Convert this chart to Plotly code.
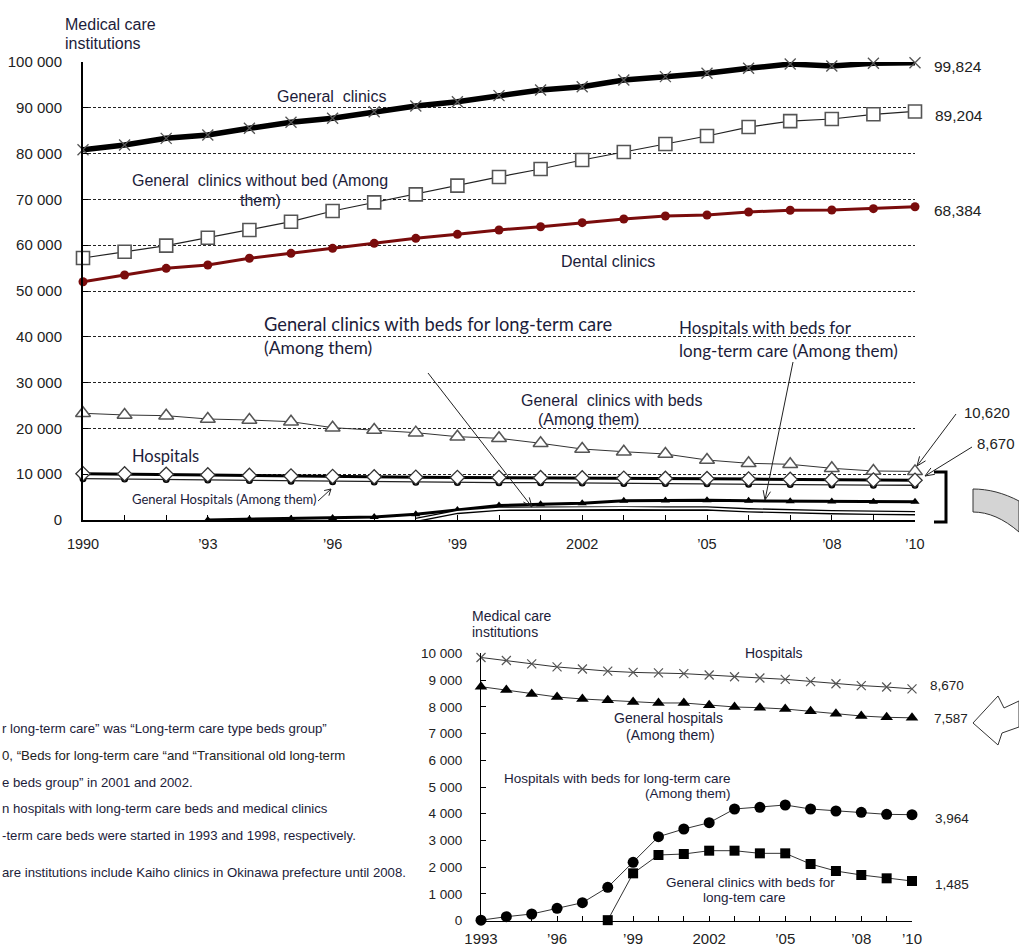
import math
import plotly.graph_objects as go

# ---- data -------------------------------------------------------------
years = list(range(1990, 2011))

general_clinics = [80852, 81880, 83330, 84060, 85520, 86830, 87700, 89150, 90390, 91330,
                   92650, 93890, 94610, 96070, 96800, 97530, 98620, 99560, 99130, 99710, 99824]
clinics_without_bed = [57200, 58580, 59900, 61640, 63320, 65130, 67470, 69360, 71100, 73000,
                       74900, 76640, 78600, 80350, 82100, 83840, 85800, 87100, 87550, 88580, 89204]
dental_clinics = [52030, 53490, 54950, 55680, 57140, 58230, 59320, 60410, 61500, 62370,
                  63320, 64040, 64920, 65720, 66380, 66590, 67250, 67620, 67690, 67980, 68384]
clinics_with_beds = [23300, 22930, 22780, 22050, 21830, 21470, 20160, 19650, 19070, 18190,
                     17840, 16750, 15500, 14910, 14410, 13100, 12380, 12160, 11290, 10700, 10620]
hospitals = [10096, 10066, 9963, 9844, 9731, 9606, 9490, 9413, 9333, 9286,
             9266, 9239, 9187, 9122, 9077, 9026, 8943, 8862, 8794, 8739, 8670]
general_hospitals = [9022, 8930, 8850, 8751, 8627, 8478, 8366, 8291, 8242, 8179,
                     8142, 8142, 8055, 7992, 7966, 7917, 7830, 7741, 7655, 7606, 7587]

ltc_hosp_years = list(range(1993, 2011))
ltc_hospitals = [20, 150, 250, 463, 673, 1249, 2184, 3141, 3429, 3665,
                 4177, 4240, 4327, 4177, 4102, 4053, 3978, 3964]
ltc_clinic_years = list(range(1998, 2011))
ltc_clinics = [20, 1771, 2457, 2494, 2618, 2618, 2519, 2519, 2120, 1858, 1709, 1585, 1485]

top_xtick_vals = [1990, 1993, 1996, 1999, 2002, 2005, 2008, 2010]
top_xtick_text = ["1990", "’93", "’96", "’99", "2002", "’05", "’08", "’10"]
top_ytick_vals = list(range(0, 100001, 10000))
top_ytick_text = ["0", "10 000", "20 000", "30 000", "40 000", "50 000",
                  "60 000", "70 000", "80 000", "90 000", "100 000"]
bot_xtick_vals = [1993, 1996, 1999, 2002, 2005, 2008, 2010]
bot_xtick_text = ["1993", "’96", "’99", "2002", "’05", "’08", "’10"]
bot_ytick_vals = list(range(0, 10001, 1000))
bot_ytick_text = ["0", "1 000", "2 000", "3 000", "4 000", "5 000",
                  "6 000", "7 000", "8 000", "9 000", "10 000"]

# ---- page geometry ------------------------------------------------------
W, H = 1019, 950


def px(x):
    return x / W


def py(y):
    return 1 - y / H


ARIAL = "Liberation Sans, Arial, sans-serif"
CALIBRI = "Lato, Carlito, sans-serif"
TXT = "#1c1c3a"
TICK = "#222222"

fig = go.Figure()

# ---- upper chart traces ---------------------------------------------------
common = dict(mode="lines+markers", cliponaxis=False, showlegend=False,
              xaxis="x", yaxis="y", hoverinfo="x+y")

fig.add_trace(go.Scatter(x=years, y=general_clinics, name="General clinics",
                         line=dict(color="black", width=5.5),
                         marker=dict(symbol="x-thin", size=11,
                                     line=dict(color="#555", width=1.3)), **common))
fig.add_trace(go.Scatter(x=years, y=clinics_without_bed, name="General clinics without bed",
                         line=dict(color="#222", width=1.2),
                         marker=dict(symbol="square", size=13, color="white",
                                     line=dict(color="#555", width=1.6)), **common))
fig.add_trace(go.Scatter(x=years, y=dental_clinics, name="Dental clinics",
                         line=dict(color="#7a0c0c", width=3),
                         marker=dict(symbol="circle", size=9, color="#7a0c0c"), **common))
fig.add_trace(go.Scatter(x=years, y=clinics_with_beds, name="General clinics with beds",
                         line=dict(color="#333", width=1),
                         marker=dict(symbol="triangle-up", size=13, color="white",
                                     line=dict(color="#555", width=1.5)), **common))
fig.add_trace(go.Scatter(x=years, y=general_hospitals, name="General hospitals",
                         line=dict(color="#222", width=1.3),
                         marker=dict(symbol="circle", size=7, color="black"), **common))
fig.add_trace(go.Scatter(x=years, y=hospitals, name="Hospitals",
                         line=dict(color="black", width=3),
                         marker=dict(symbol="diamond", size=11, color="white",
                                     line=dict(color="#333", width=1.3)), **common))
fig.add_trace(go.Scatter(x=ltc_hosp_years, y=ltc_hospitals,
                         name="Hospitals with beds for long-term care",
                         line=dict(color="black", width=3),
                         marker=dict(symbol="triangle-up", size=8, color="black"), **common))
# clinics with long-term care beds: outlined (double) line
fig.add_trace(go.Scatter(x=ltc_clinic_years, y=ltc_clinics,
                         name="General clinics with beds for long-term care",
                         line=dict(color="black", width=4.5), **{**common, "mode": "lines"}))
fig.add_trace(go.Scatter(x=ltc_clinic_years, y=ltc_clinics,
                         name="General clinics with beds for long-term care",
                         line=dict(color="white", width=1.8), **{**common, "mode": "lines"}))

# ---- lower chart traces ---------------------------------------------------
low = dict(mode="lines+markers", cliponaxis=False, showlegend=False,
           xaxis="x2", yaxis="y2", hoverinfo="x+y")
i93 = years.index(1993)
fig.add_trace(go.Scatter(x=years[i93:], y=hospitals[i93:], name="Hospitals",
                         line=dict(color="#333", width=1),
                         marker=dict(symbol="x-thin", size=9,
                                     line=dict(color="#555", width=1.2)), **low))
fig.add_trace(go.Scatter(x=years[i93:], y=general_hospitals[i93:], name="General hospitals",
                         line=dict(color="#333", width=1),
                         marker=dict(symbol="triangle-up", size=11, color="black"), **low))
fig.add_trace(go.Scatter(x=ltc_hosp_years, y=ltc_hospitals,
                         name="Hospitals with beds for long-term care",
                         line=dict(color="#333", width=1),
                         marker=dict(symbol="circle", size=11, color="black"), **low))
fig.add_trace(go.Scatter(x=ltc_clinic_years, y=ltc_clinics,
                         name="General clinics with beds for long-term care",
                         line=dict(color="#333", width=1),
                         marker=dict(symbol="square", size=10, color="black"), **low))

# ---- axes -----------------------------------------------------------------
axis_line = dict(showline=True, linecolor="black", zeroline=False, ticks="inside",
                 tickcolor="black", ticklen=5, automargin=False)

fig.update_layout(
    xaxis=dict(domain=[px(83), px(915)], range=[1990, 2010], anchor="y",
               tickmode="array", tickvals=top_xtick_vals, ticktext=top_xtick_text,
               showgrid=False, linewidth=1.5, ticklabelstandoff=10,
               minor=dict(tickmode="linear", tick0=1990, dtick=1, ticks="inside",
                          ticklen=5, tickcolor="black", showgrid=False),
               tickfont=dict(family=ARIAL, size=14.5, color=TICK), **axis_line),
    yaxis=dict(domain=[py(520), py(62)], range=[0, 100000], anchor="x",
               tickmode="array", tickvals=top_ytick_vals, ticktext=top_ytick_text,
               showgrid=True, gridcolor="#222", gridwidth=1, griddash="3px,2px",
               linewidth=2, ticklabelstandoff=16,
               tickfont=dict(family=ARIAL, size=15, color=TICK), **axis_line),
    xaxis2=dict(domain=[px(481), px(912)], range=[1993, 2010], anchor="y2",
                tickmode="array", tickvals=bot_xtick_vals, ticktext=bot_xtick_text,
                showgrid=False, linewidth=1.2, ticklabelstandoff=4,
                minor=dict(tickmode="linear", tick0=1993, dtick=1, ticks="inside",
                           ticklen=5, tickcolor="black", showgrid=False),
                tickfont=dict(family=ARIAL, size=15, color=TICK), **axis_line),
    yaxis2=dict(domain=[py(920.7), py(653.3)], range=[0, 10000], anchor="x2",
                tickmode="array", tickvals=bot_ytick_vals, ticktext=bot_ytick_text,
                showgrid=False, linewidth=1.2, ticklabelstandoff=15,
                tickfont=dict(family=ARIAL, size=13.5, color=TICK), **axis_line),
)

# ---- text labels ------------------------------------------------------------
labels = [
    # text, x, y, anchor, family, size
    ("Medical care", 63, 24, "left", ARIAL, 16),
    ("institutions", 63, 43, "left", ARIAL, 16),
    ("General\u00a0 clinics", 331, 97, "center", ARIAL, 16),
    ("General\u00a0 clinics without bed (Among", 260, 181, "center", ARIAL, 16),
    ("them)", 260, 200, "center", ARIAL, 16),
    ("Dental clinics", 608, 261, "center", ARIAL, 16),
    ("General clinics with beds for long-term care", 262, 324, "left", CALIBRI, 18.3),
    ("(Among them)", 262, 347, "left", CALIBRI, 17.5),
    ("Hospitals with beds for", 677, 327, "left", CALIBRI, 17),
    ("long-term care (Among them)", 677, 350, "left", CALIBRI, 17),
    ("General\u00a0 clinics with beds", 611, 400, "center", ARIAL, 16),
    ("(Among them)", 588, 419, "center", ARIAL, 16),
    ("Hospitals", 130, 456, "left", CALIBRI, 16.5),
    ("General Hospitals (Among them)", 130, 499, "left", CALIBRI, 13),
    ("99,824", 932, 67, "left", ARIAL, 15.5),
    ("89,204", 933, 116, "left", ARIAL, 15.5),
    ("68,384", 932, 210, "left", ARIAL, 15.5),
    ("10,620", 962, 413, "left", ARIAL, 15),
    ("8,670", 975, 443, "left", ARIAL, 15),
    # lower chart
    ("Medical care", 470, 616, "left", ARIAL, 14),
    ("institutions", 470, 632, "left", ARIAL, 14),
    ("Hospitals", 743, 653, "left", ARIAL, 14),
    ("General hospitals", 668, 718, "center", ARIAL, 14),
    ("(Among them)", 670, 735, "center", ARIAL, 14),
    ("Hospitals with beds for long-term care", 733, 778, "right", ARIAL, 13.5),
    ("(Among them)", 733, 793, "right", ARIAL, 13.5),
    ("General clinics with beds for", 750, 882, "center", ARIAL, 13.5),
    ("long-tem care", 744, 897, "center", ARIAL, 13.5),
    ("8,670", 928, 685, "left", ARIAL, 13.5),
    ("7,587", 932, 718, "left", ARIAL, 13.5),
    ("3,964", 933, 818, "left", ARIAL, 13.5),
    ("1,485", 933, 884, "left", ARIAL, 13.5),
    # notes
    ("r long-term care\u201d was \u201cLong-term care type beds group\u201d", 0, 728, "left", ARIAL, 13.2),
    ("0, \u201cBeds for long-term care \u201cand \u201cTransitional old long-term", 0, 755, "left", ARIAL, 13.2),
    ("e beds group\u201d in 2001 and 2002.", 0, 782, "left", ARIAL, 13.2),
    ("n hospitals with long-term care beds and medical clinics", 0, 808, "left", ARIAL, 13.2),
    ("-term care beds were started in 1993 and 1998, respectively.", 0, 835, "left", ARIAL, 13.2),
    ("are institutions include Kaiho clinics in Okinawa prefecture until 2008.", 0, 872, "left", ARIAL, 13.2),
]

annotations = []
for text, x, y, anchor, fam, size in labels:
    annotations.append(dict(text=text, x=px(x), y=py(y), xref="paper", yref="paper",
                            xanchor=anchor, yanchor="middle", showarrow=False,
                            font=dict(family=fam, size=size,
                                      color=TICK if text[0].isdigit() else TXT)))
fig.update_layout(annotations=annotations)

# ---- leader arrows, bracket and block arrows -------------------------------------
shapes = []


def seg(x0, y0, x1, y1, width=1, color="#222"):
    shapes.append(dict(type="line", xref="paper", yref="paper",
                       x0=px(x0), y0=py(y0), x1=px(x1), y1=py(y1),
                       line=dict(color=color, width=width)))


def arrow(x0, y0, x1, y1, head=10, spread=22):
    seg(x0, y0, x1, y1)
    ang = math.atan2(y0 - y1, x0 - x1)
    for s in (-1, 1):
        a = ang + s * math.radians(spread)
        seg(x1, y1, x1 + head * math.cos(a), y1 + head * math.sin(a))


arrow(428, 373, 532, 507)
arrow(793, 362, 765, 500)
arrow(318, 501, 331, 489, head=7, spread=30)
arrow(956, 414, 917, 466)
arrow(972, 447, 925, 476)


def path_from(points, close=True):
    d = "M " + " L ".join(f"{px(x):.5f},{py(y):.5f}" for x, y in points)
    return d + (" Z" if close else "")


# bracket grouping the small series
shapes.append(dict(type="path", xref="paper", yref="paper",
                   path=path_from([(934, 472), (946, 472), (946, 522), (934, 522)], close=False),
                   line=dict(color="black", width=3)))

# curved grey band
band = [(973, 489)]
for t in [i / 8 for i in range(1, 9)]:
    band.append((973 + 46 * t, 489 + 12 * t * t))
band += [(1019, 532)]
for t in [i / 8 for i in range(8, -1, -1)]:
    band.append((973 + 46 * t, 512 + 20 * t * t))
shapes.append(dict(type="path", xref="paper", yref="paper", path=path_from(band),
                   fillcolor="#d4d4d4", line=dict(color="#333", width=1)))

# open arrow pointing at the enlarged chart
shapes.append(dict(type="path", xref="paper", yref="paper",
                   path=path_from([(973, 723), (998, 696), (1004, 708), (1019, 701),
                                   (1019, 727), (1002, 733), (998, 745)]),
                   fillcolor="white", line=dict(color="#333", width=1)))

fig.update_layout(shapes=shapes)

fig.update_layout(width=W, height=H, autosize=False,
                  margin=dict(l=0, r=0, t=0, b=0, autoexpand=False),
                  paper_bgcolor="white", plot_bgcolor="white")

fig.write_html("out.html")
